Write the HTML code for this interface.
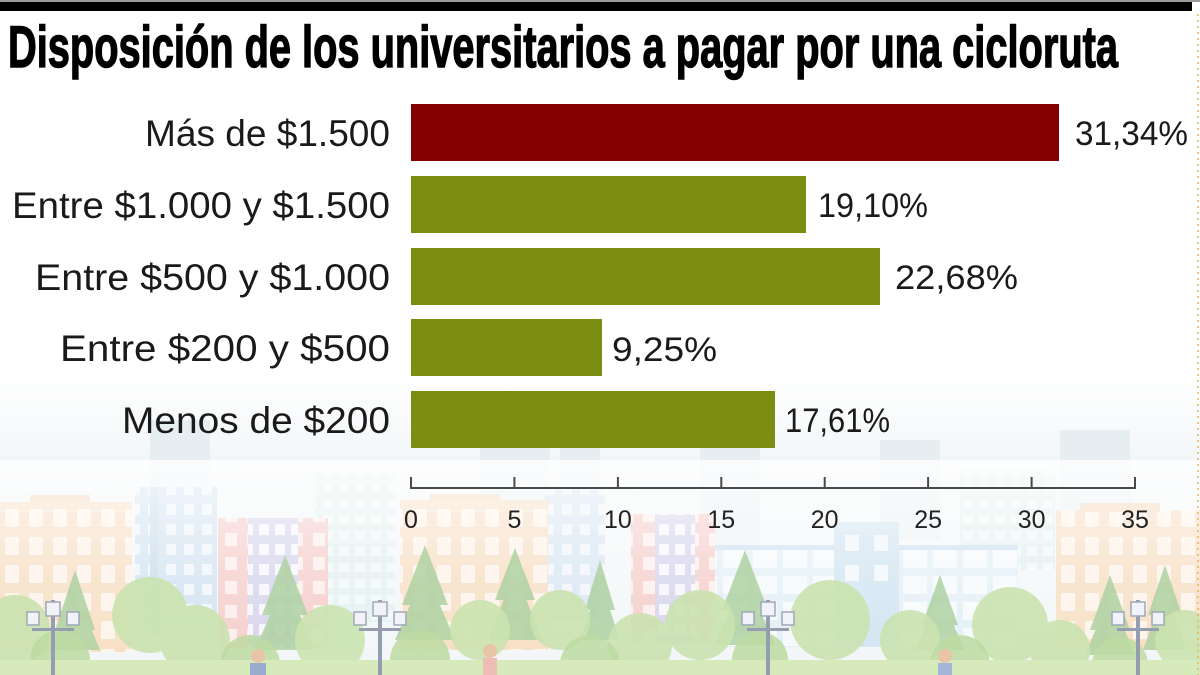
<!DOCTYPE html>
<html>
<head>
<meta charset="utf-8">
<style>
  html,body{margin:0;padding:0;background:#fff;}
  body{width:1200px;height:675px;overflow:hidden;}
  svg{display:block;}
  .lbl{font-family:"Liberation Sans",sans-serif;font-size:37px;fill:#1a1a1a;}
  .val{font-family:"Liberation Sans",sans-serif;font-size:34px;fill:#1a1a1a;}
  .tick{font-family:"Liberation Sans",sans-serif;font-size:25px;fill:#222;}
  .title{font-family:"Liberation Sans",sans-serif;font-weight:bold;font-size:58px;fill:#000;stroke:#000;stroke-width:1.4px;}
</style>
</head>
<body>
<svg width="1200" height="675" viewBox="0 0 1200 675" xmlns="http://www.w3.org/2000/svg">
  <defs>
    <linearGradient id="sky" x1="0" y1="0" x2="0" y2="1">
      <stop offset="0" stop-color="#ffffff"/>
      <stop offset="0.55" stop-color="#ffffff"/>
      <stop offset="0.70" stop-color="#f1f5f7"/>
      <stop offset="1" stop-color="#eef3f5"/>
    </linearGradient>
    <linearGradient id="haze" x1="0" y1="0" x2="0" y2="1">
      <stop offset="0" stop-color="#ffffff" stop-opacity="0.8"/>
      <stop offset="0.5" stop-color="#ffffff" stop-opacity="0.45"/>
      <stop offset="1" stop-color="#ffffff" stop-opacity="0.25"/>
    </linearGradient>
    <pattern id="wo" width="24" height="28" patternUnits="userSpaceOnUse">
      <rect width="24" height="28" fill="#f4d3ae"/>
      <rect x="5" y="5" width="14" height="18" fill="#fcefe1"/>
    </pattern>
    <pattern id="wb" width="18" height="20" patternUnits="userSpaceOnUse">
      <rect width="18" height="20" fill="#c3d9ec"/>
      <rect x="4" y="4" width="10" height="11" fill="#eaf2f9"/>
    </pattern>
    <pattern id="wp" width="22" height="24" patternUnits="userSpaceOnUse">
      <rect width="22" height="24" fill="#f1bcb8"/>
      <rect x="5" y="5" width="12" height="13" fill="#fbe8e6"/>
    </pattern>
    <pattern id="wv" width="16" height="20" patternUnits="userSpaceOnUse">
      <rect width="16" height="20" fill="#c7c5e4"/>
      <rect x="3" y="4" width="10" height="11" fill="#f3f2fb"/>
    </pattern>
    <pattern id="wt" width="16" height="16" patternUnits="userSpaceOnUse">
      <rect width="16" height="16" fill="#d5e9e8"/>
      <rect x="3" y="3" width="10" height="9" fill="#eef7f6"/>
    </pattern>
    <pattern id="wl" width="30" height="26" patternUnits="userSpaceOnUse">
      <rect width="30" height="26" fill="#d9eaf3"/>
      <rect x="3" y="4" width="24" height="18" fill="#f3f8fb"/>
    </pattern>
  </defs>

  <!-- sky -->
  <rect x="0" y="0" width="1200" height="675" fill="url(#sky)"/>

  <!-- far faded towers -->
  <g fill="#e6eef2">
    <rect x="150" y="420" width="60" height="120"/>
    <rect x="480" y="430" width="70" height="110"/>
    <rect x="560" y="440" width="40" height="100"/>
    <rect x="700" y="445" width="60" height="100"/>
    <rect x="880" y="440" width="60" height="100"/>
    <rect x="1060" y="430" width="70" height="110"/>
  </g>
  <rect x="315" y="472" width="80" height="150" fill="url(#wt)" opacity="0.8"/>
  <rect x="960" y="470" width="95" height="100" fill="url(#wt)" opacity="0.8"/>
  <rect x="545" y="488" width="60" height="130" fill="url(#wb)" opacity="0.85"/>

  <!-- buildings -->
  <rect x="30" y="495" width="60" height="10" fill="#f1cba4"/>
  <rect x="0" y="502" width="132" height="150" fill="url(#wo)"/>
  <rect x="135" y="487" width="82" height="150" fill="url(#wb)"/>
  <rect x="150" y="487" width="8" height="150" fill="#b6cfe6"/>
  <rect x="218" y="518" width="110" height="130" fill="url(#wp)"/>
  <rect x="248" y="518" width="50" height="130" fill="url(#wv)"/>
  <rect x="430" y="494" width="70" height="8" fill="#f1cba4"/>
  <rect x="400" y="500" width="148" height="150" fill="url(#wo)"/>
  <rect x="631" y="514" width="84" height="130" fill="url(#wp)"/>
  <rect x="655" y="514" width="40" height="130" fill="url(#wv)"/>
  <rect x="715" y="547" width="303" height="100" fill="url(#wl)"/>
  <rect x="715" y="545" width="303" height="5" fill="#bcd7ea"/>
  <rect x="834" y="522" width="65" height="125" fill="#c2dbec"/>
  <rect x="845" y="535" width="14" height="16" fill="#eef5fa"/>
  <rect x="874" y="535" width="14" height="16" fill="#eef5fa"/>
  <rect x="845" y="565" width="14" height="16" fill="#eef5fa"/>
  <rect x="874" y="565" width="14" height="16" fill="#eef5fa"/>
  <rect x="1056" y="510" width="144" height="140" fill="url(#wo)"/>
  <rect x="1080" y="503" width="80" height="9" fill="#f1cba4"/>

  <!-- haze over buildings -->
  <rect x="0" y="460" width="1200" height="215" fill="url(#haze)"/>

  <!-- conifers -->
  <g fill="#afd2a2" opacity="0.85">
    <polygon points="75,570 55,630 95,630"/><polygon points="75,590 50,650 100,650"/>
    <polygon points="285,555 262,615 308,615"/><polygon points="285,580 255,650 315,650"/>
    <polygon points="425,545 402,605 448,605"/><polygon points="425,570 395,640 455,640"/>
    <polygon points="515,548 495,600 535,600"/><polygon points="515,570 488,640 542,640"/>
    <polygon points="745,550 722,610 768,610"/><polygon points="745,575 715,645 775,645"/>
    <polygon points="940,575 922,625 958,625"/><polygon points="940,595 915,650 965,650"/>
    <polygon points="1110,575 1090,630 1130,630"/><polygon points="1110,595 1085,655 1135,655"/>
    <polygon points="1165,565 1148,615 1182,615"/><polygon points="1165,590 1143,650 1187,650"/>
    <polygon points="600,560 585,610 615,610"/><polygon points="600,580 580,640 620,640"/>
  </g>

  <!-- deciduous trees / bushes -->
  <g fill="#cbe3b0" opacity="0.9">
    <circle cx="15" cy="630" r="35"/>
    <circle cx="150" cy="615" r="38"/>
    <circle cx="195" cy="640" r="35"/>
    <circle cx="330" cy="640" r="35"/>
    <circle cx="480" cy="630" r="30"/>
    <circle cx="560" cy="620" r="30"/>
    <circle cx="640" cy="645" r="32"/>
    <circle cx="700" cy="625" r="35"/>
    <circle cx="830" cy="620" r="40"/>
    <circle cx="910" cy="640" r="30"/>
    <circle cx="1010" cy="625" r="38"/>
    <circle cx="1060" cy="650" r="30"/>
    <circle cx="1185" cy="640" r="30"/>
  </g>
  <g fill="#bcdaa2" opacity="0.85">
    <circle cx="60" cy="660" r="30"/>
    <circle cx="250" cy="665" r="30"/>
    <circle cx="420" cy="660" r="30"/>
    <circle cx="590" cy="665" r="30"/>
    <circle cx="760" cy="660" r="28"/>
    <circle cx="960" cy="665" r="30"/>
    <circle cx="1120" cy="665" r="28"/>
  </g>
  <rect x="0" y="660" width="1200" height="15" fill="#d6eabb"/>

  <!-- lampposts -->
  <g fill="#959eb0">
    <rect x="51" y="600" width="4" height="75"/><rect x="32" y="628" width="42" height="3"/>
    <rect x="378" y="600" width="4" height="75"/><rect x="359" y="628" width="42" height="3"/>
    <rect x="766" y="600" width="4" height="75"/><rect x="747" y="628" width="42" height="3"/>
    <rect x="1136" y="600" width="4" height="75"/><rect x="1117" y="628" width="42" height="3"/>
  </g>
  <g fill="#f2f3f8" stroke="#a0a8b8" stroke-width="1.5">
    <rect x="46" y="602" width="14" height="14"/><rect x="27" y="612" width="12" height="13"/><rect x="67" y="612" width="12" height="13"/>
    <rect x="373" y="602" width="14" height="14"/><rect x="354" y="612" width="12" height="13"/><rect x="394" y="612" width="12" height="13"/>
    <rect x="761" y="602" width="14" height="14"/><rect x="742" y="612" width="12" height="13"/><rect x="782" y="612" width="12" height="13"/>
    <rect x="1131" y="602" width="14" height="14"/><rect x="1112" y="612" width="12" height="13"/><rect x="1152" y="612" width="12" height="13"/>
  </g>
  <!-- people hints -->
  <circle cx="258" cy="656" r="7" fill="#e9c5a8"/><rect x="250" y="663" width="16" height="12" fill="#9aabd0"/>
  <circle cx="490" cy="651" r="7" fill="#e9c5a8"/><rect x="483" y="658" width="14" height="17" fill="#f0bdb4"/>
  <circle cx="945" cy="656" r="7" fill="#e9c5a8"/><rect x="938" y="663" width="14" height="12" fill="#a5b5d8"/>

  <!-- top black rule -->
  <rect x="0" y="0" width="1200" height="2" fill="#9a9a9a"/>
  <rect x="0" y="2" width="1192" height="9" fill="#000"/>
  <line x1="1198" y1="14" x2="1198" y2="675" stroke="#e2b35a" stroke-width="2" stroke-dasharray="2,4" opacity="0.7"/>

  <!-- title -->
  <text class="title" x="8" y="67" textLength="1110" lengthAdjust="spacingAndGlyphs">Disposición de los universitarios a pagar por una cicloruta</text>

  <!-- bars -->
  <rect x="411" y="104" width="648" height="57" fill="#840000"/>
  <rect x="411" y="176" width="395" height="57" fill="#7b8e12"/>
  <rect x="411" y="248" width="469" height="57" fill="#7b8e12"/>
  <rect x="411" y="319" width="191" height="57" fill="#7b8e12"/>
  <rect x="411" y="391" width="364" height="57" fill="#7b8e12"/>

  <!-- category labels -->
  <text class="lbl" x="145" y="146" textLength="245" lengthAdjust="spacingAndGlyphs">Más de $1.500</text>
  <text class="lbl" x="12" y="218" textLength="378" lengthAdjust="spacingAndGlyphs">Entre $1.000 y $1.500</text>
  <text class="lbl" x="35" y="290" textLength="355" lengthAdjust="spacingAndGlyphs">Entre $500 y $1.000</text>
  <text class="lbl" x="60" y="361" textLength="330" lengthAdjust="spacingAndGlyphs">Entre $200 y $500</text>
  <text class="lbl" x="122" y="433" textLength="268" lengthAdjust="spacingAndGlyphs">Menos de $200</text>

  <!-- value labels -->
  <text class="val" x="1075" y="145" textLength="113" lengthAdjust="spacingAndGlyphs">31,34%</text>
  <text class="val" x="818" y="217" textLength="110" lengthAdjust="spacingAndGlyphs">19,10%</text>
  <text class="val" x="895" y="289" textLength="123" lengthAdjust="spacingAndGlyphs">22,68%</text>
  <text class="val" x="612" y="361" textLength="105" lengthAdjust="spacingAndGlyphs">9,25%</text>
  <text class="val" x="785" y="432" textLength="105" lengthAdjust="spacingAndGlyphs">17,61%</text>

  <!-- axis -->
  <g stroke="#4a4a4a" stroke-width="2">
    <line x1="411" y1="488" x2="1135" y2="488"/>
    <line x1="411" y1="477" x2="411" y2="489"/>
    <line x1="514.4" y1="477" x2="514.4" y2="489"/>
    <line x1="617.9" y1="477" x2="617.9" y2="489"/>
    <line x1="721.3" y1="477" x2="721.3" y2="489"/>
    <line x1="824.7" y1="477" x2="824.7" y2="489"/>
    <line x1="928.1" y1="477" x2="928.1" y2="489"/>
    <line x1="1031.6" y1="477" x2="1031.6" y2="489"/>
    <line x1="1135" y1="477" x2="1135" y2="489"/>
  </g>
  <g text-anchor="middle">
    <text class="tick" x="411" y="528">0</text>
    <text class="tick" x="514.4" y="528">5</text>
    <text class="tick" x="617.9" y="528">10</text>
    <text class="tick" x="721.3" y="528">15</text>
    <text class="tick" x="824.7" y="528">20</text>
    <text class="tick" x="928.1" y="528">25</text>
    <text class="tick" x="1031.6" y="528">30</text>
    <text class="tick" x="1135" y="528">35</text>
  </g>
</svg>
</body>
</html>
